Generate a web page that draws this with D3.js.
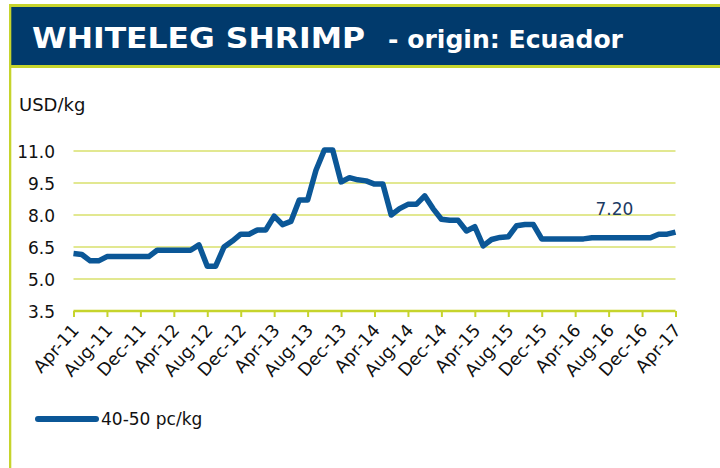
<!DOCTYPE html>
<html><head><meta charset="utf-8">
<script src="https://cdn.jsdelivr.net/npm/d3@7"></script>
<style>html,body{margin:0;padding:0;background:#fff;}svg{display:block;}</style>
</head><body>
<svg id="chart" width="720" height="468"></svg>
<script>
const title = "WHITELEG SHRIMP";
const subtitle = "- origin: Ecuador";
const unitLabel = "USD/kg";
const seriesName = "40-50 pc/kg";
const months = ["Apr-11","May-11","Jun-11","Jul-11","Aug-11","Sep-11","Oct-11","Nov-11","Dec-11",
 "Jan-12","Feb-12","Mar-12","Apr-12","May-12","Jun-12","Jul-12","Aug-12","Sep-12","Oct-12","Nov-12","Dec-12",
 "Jan-13","Feb-13","Mar-13","Apr-13","May-13","Jun-13","Jul-13","Aug-13","Sep-13","Oct-13","Nov-13","Dec-13",
 "Jan-14","Feb-14","Mar-14","Apr-14","May-14","Jun-14","Jul-14","Aug-14","Sep-14","Oct-14","Nov-14","Dec-14",
 "Jan-15","Feb-15","Mar-15","Apr-15","May-15","Jun-15","Jul-15","Aug-15","Sep-15","Oct-15","Nov-15","Dec-15",
 "Jan-16","Feb-16","Mar-16","Apr-16","May-16","Jun-16","Jul-16","Aug-16","Sep-16","Oct-16","Nov-16","Dec-16",
 "Jan-17","Feb-17","Mar-17","Apr-17"];
const prices = [6.2,6.15,5.85,5.85,6.05,6.05,6.05,6.05,6.05,
 6.05,6.35,6.35,6.35,6.35,6.35,6.6,5.6,5.6,6.5,6.78,7.1,
 7.1,7.3,7.3,7.95,7.55,7.7,8.7,8.7,10.1,11.05,11.05,9.55,
 9.75,9.65,9.6,9.45,9.45,8.0,8.3,8.5,8.5,8.9,8.3,7.8,
 7.75,7.75,7.25,7.45,6.55,6.85,6.95,6.98,7.5,7.55,7.55,6.88,
 6.88,6.88,6.88,6.88,6.88,6.93,6.93,6.93,6.93,6.93,6.93,6.93,
 6.93,7.1,7.1,7.2];
const yTicks = [3.5,5.0,6.5,8.0,9.5,11.0];
const xTickLabels = ["Apr-11","Aug-11","Dec-11","Apr-12","Aug-12","Dec-12","Apr-13","Aug-13","Dec-13",
 "Apr-14","Aug-14","Dec-14","Apr-15","Aug-15","Dec-15","Apr-16","Aug-16","Dec-16","Apr-17"];
const lastLabel = "7.20";

const lime = "#c6d42c", grid = "#d8e16c", navy = "#013a6c", lineBlue = "#0b5797";
const svg = d3.select("#chart");
const font = "'DejaVu Sans', Verdana, sans-serif";

// frame
svg.append("rect").attr("x",9).attr("y",4).attr("width",711).attr("height",64).attr("fill",lime);
svg.append("rect").attr("x",11).attr("y",7).attr("width",709).attr("height",58).attr("fill",navy);
svg.append("rect").attr("x",9).attr("y",4).attr("width",2.3).attr("height",464).attr("fill",lime);

svg.append("text").attr("x",32).attr("y",48).attr("fill","#fff").attr("font-family",font)
  .attr("font-weight","bold").attr("font-size",29).attr("textLength",333).attr("lengthAdjust","spacingAndGlyphs").text(title);
svg.append("text").attr("x",388).attr("y",48).attr("fill","#fff").attr("font-family",font)
  .attr("font-weight","bold").attr("font-size",24).attr("textLength",235).attr("lengthAdjust","spacingAndGlyphs").text(subtitle);

const x = d3.scaleLinear().domain([0, months.length-1]).range([73.5, 675.5]);
const y = d3.scaleLinear().domain([3.5, 11.0]).range([311, 151]);

// gridlines
svg.append("g").selectAll("line").data(yTicks.filter(v=>v>3.5)).join("line")
  .attr("x1",73.5).attr("x2",675.5).attr("y1",d=>y(d)).attr("y2",d=>y(d))
  .attr("stroke",grid).attr("stroke-width",1.6);

// y axis labels
const yAxis = d3.axisLeft(y).tickValues(yTicks).tickFormat(d3.format(".1f")).tickSize(0).tickPadding(0);
const gy = svg.append("g").attr("transform","translate(55,0)").call(yAxis);
gy.select(".domain").remove();
gy.selectAll("text").attr("font-family",font).attr("font-size",17).attr("fill","#111").attr("dy","0.36em");

svg.append("text").attr("x",19).attr("y",111).attr("font-family",font).attr("font-size",18).attr("fill","#111").text(unitLabel);

// x axis
const tickIdx = xTickLabels.map(l => months.indexOf(l));
const xAxis = d3.axisBottom(x).tickValues(tickIdx).tickFormat(i => months[i]).tickSize(6).tickPadding(2);
const gx = svg.append("g").attr("transform","translate(0,311)").call(xAxis);
gx.select(".domain").attr("stroke",lime).attr("stroke-width",2.6).attr("d","M73.5,0H675.5");
gx.selectAll(".tick line").attr("stroke",lime).attr("stroke-width",2);
gx.selectAll(".tick text").attr("font-family",font).attr("font-size",17.5).attr("fill","#111")
  .attr("text-anchor","end").attr("dy","0").attr("y",0)
  .attr("transform","translate(6,20) rotate(-48)");

// line
const line = d3.line().x((d,i)=>x(i)).y(d=>y(d)).curve(d3.curveLinear);
svg.append("path").datum(prices).attr("d",line).attr("fill","none")
  .attr("stroke",lineBlue).attr("stroke-width",5.5).attr("stroke-linejoin","round");

// data label
const li = prices.length-1;
svg.append("text").attr("x",x(li)-80).attr("y",y(prices[li])-17).attr("font-family",font)
  .attr("font-size",17).attr("fill","#1c3a63").text(lastLabel);

// legend
svg.append("line").attr("x1",38).attr("x2",96).attr("y1",419).attr("y2",419)
  .attr("stroke",lineBlue).attr("stroke-width",6).attr("stroke-linecap","round");
svg.append("text").attr("x",101).attr("y",425).attr("font-family",font).attr("font-size",17).attr("fill","#111").text(seriesName);
</script>
</body></html>
